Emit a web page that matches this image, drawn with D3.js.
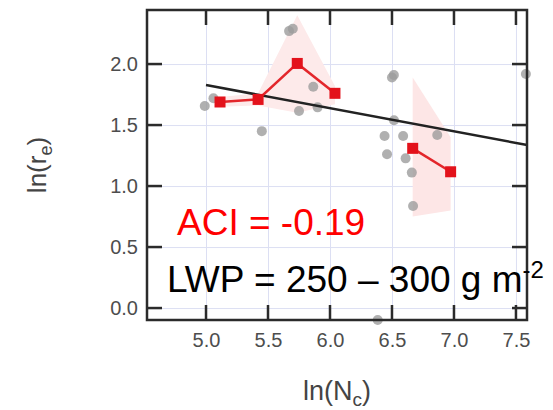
<!DOCTYPE html>
<html lang="en">
<head>
<meta charset="UTF-8">
<title>ln(re) vs ln(Nc)</title>
<style>
    body { margin: 0; background: #fff; }
    svg { display: block; font-family: "Liberation Sans", Arial, sans-serif; }
    .tick text { fill: #4d4d4d; font-size: 20px; }
</style>
</head>
<body>
<svg id="chart" width="553" height="410"></svg>
<script src="https://cdnjs.cloudflare.com/ajax/libs/d3/7.9.0/d3.min.js"></script>
<script>
    // gray scatter points (ln Nc, ln re)
    const pointX = [4.99, 5.06, 5.45, 5.67, 5.70, 5.75, 5.865, 5.90, 6.50, 6.515, 6.516, 6.44, 6.46, 6.59, 6.61, 6.66, 6.865, 7.58, 6.67, 6.385];
    const pointY = [1.656, 1.72, 1.45, 2.27, 2.29, 1.615, 1.814, 1.645, 1.89, 1.91, 1.54, 1.41, 1.26, 1.41, 1.227, 1.11, 1.418, 1.918, 0.836, -0.098];

    // binned means (red squares), two groups
    const meanX1 = [5.113, 5.42, 5.736, 6.04];
    const meanY1 = [1.689, 1.71, 2.005, 1.76];
    const bandHi1 = [1.73, 1.76, 2.40, 1.82];
    const bandLo1 = [1.65, 1.66, 1.60, 1.67];

    const meanX2 = [6.667, 6.973];
    const meanY2 = [1.309, 1.117];
    const bandHi2 = [1.89, 1.40];
    const bandLo2 = [0.75, 0.80];

    // regression line (slope = ACI)
    const fitX = [5.0, 7.59];
    const fitY = [1.828, 1.336];

    const xTicks = [5.0, 5.5, 6.0, 6.5, 7.0, 7.5];
    const yTicks = [0.0, 0.5, 1.0, 1.5, 2.0];

    const padL = 147, padR = 527, padT = 10, padB = 320;
    const svg = d3.select("#chart");

    const x = d3.scaleLinear().domain([4.524, 7.589]).range([padL, padR]);
    const y = d3.scaleLinear().domain([-0.098, 2.443]).range([padB, padT]);

    // grid
    svg.append("g")
        .attr("transform", "translate(0," + padB + ")")
        .call(d3.axisBottom(x).tickValues(xTicks).tickSize(-(padB - padT)).tickFormat(""))
        .call(g => g.select(".domain").remove())
        .selectAll("line").attr("stroke", "#dcdff3").attr("stroke-width", 1);
    svg.append("g")
        .attr("transform", "translate(" + padL + ",0)")
        .call(d3.axisLeft(y).tickValues(yTicks).tickSize(-(padR - padL)).tickFormat(""))
        .call(g => g.select(".domain").remove())
        .selectAll("line").attr("stroke", "#dcdff3").attr("stroke-width", 1);

    // shaded bands
    const area = d3.area()
        .x(d => x(d[0]))
        .y0(d => y(d[1]))
        .y1(d => y(d[2]));
    svg.append("path")
        .datum(meanX1.map((v, i) => [v, bandLo1[i], bandHi1[i]]))
        .attr("d", area)
        .attr("fill", "#fdeaea");
    svg.append("path")
        .datum(meanX2.map((v, i) => [v, bandLo2[i], bandHi2[i]]))
        .attr("d", area)
        .attr("fill", "#fde6e6");

    // scatter
    svg.selectAll(".pt")
        .data(pointX.map((v, i) => [v, pointY[i]]))
        .enter()
        .append("circle")
        .attr("class", "pt")
        .attr("cx", d => x(d[0]))
        .attr("cy", d => y(d[1]))
        .attr("r", 5)
        .attr("fill", "#9c9c9c")
        .attr("opacity", 0.8);

    // fit line
    const line = d3.line().x(d => x(d[0])).y(d => y(d[1]));
    svg.append("path")
        .datum(fitX.map((v, i) => [v, fitY[i]]))
        .attr("d", line)
        .attr("fill", "none")
        .attr("stroke", "#222")
        .attr("stroke-width", 2.5);

    // red mean lines + squares
    [[meanX1, meanY1], [meanX2, meanY2]].forEach(([mx, my]) => {
        const pts = mx.map((v, i) => [v, my[i]]);
        svg.append("path")
            .datum(pts)
            .attr("d", line)
            .attr("fill", "none")
            .attr("stroke", "#e3262b")
            .attr("stroke-width", 2.5);
        svg.selectAll(null)
            .data(pts)
            .enter()
            .append("rect")
            .attr("x", d => x(d[0]) - 5.5)
            .attr("y", d => y(d[1]) - 5.5)
            .attr("width", 11)
            .attr("height", 11)
            .attr("fill", "#e3121b");
    });

    // tick labels
    svg.append("g")
        .attr("class", "axis")
        .attr("transform", "translate(0," + padB + ")")
        .call(d3.axisBottom(x).tickValues(xTicks).tickSize(0).tickPadding(13).tickFormat(d3.format(".1f")));
    svg.append("g")
        .attr("class", "axis")
        .attr("transform", "translate(" + padL + ",0)")
        .call(d3.axisLeft(y).tickValues(yTicks).tickSize(0).tickPadding(9).tickFormat(d3.format(".1f")));
    svg.selectAll(".axis").attr("font-family", null).attr("font-size", null);
    svg.selectAll(".axis .domain").remove();

    // inward tick marks on all four sides, drawn as thin rects
    const tickLen = 15, tickW = 2.5;
    const tickG = svg.append("g").attr("fill", "#2b2b2b");
    tickG.selectAll(".xtb").data(xTicks).enter().append("rect")
        .attr("class", "xtb")
        .attr("x", d => x(d) - tickW / 2).attr("y", padB - tickLen)
        .attr("width", tickW).attr("height", tickLen);
    tickG.selectAll(".xtt").data(xTicks).enter().append("rect")
        .attr("class", "xtt")
        .attr("x", d => x(d) - tickW / 2).attr("y", padT)
        .attr("width", tickW).attr("height", tickLen);
    tickG.selectAll(".ytl").data(yTicks).enter().append("rect")
        .attr("class", "ytl")
        .attr("x", padL).attr("y", d => y(d) - tickW / 2)
        .attr("width", tickLen).attr("height", tickW);
    tickG.selectAll(".ytr").data(yTicks).enter().append("rect")
        .attr("class", "ytr")
        .attr("x", padR - tickLen).attr("y", d => y(d) - tickW / 2)
        .attr("width", tickLen).attr("height", tickW);

    // frame
    svg.append("rect")
        .attr("x", padL).attr("y", padT)
        .attr("width", padR - padL).attr("height", padB - padT)
        .attr("fill", "none")
        .attr("stroke", "#2b2b2b")
        .attr("stroke-width", 2.5);

    // axis titles
    const xt = svg.append("text")
        .attr("x", 337).attr("y", 400)
        .attr("text-anchor", "middle")
        .attr("font-size", 27)
        .attr("fill", "#444");
    xt.append("tspan").text("ln(N");
    xt.append("tspan").attr("dy", 6).attr("font-size", 19).text("c");
    xt.append("tspan").attr("dy", -6).text(")");

    const yt = svg.append("text")
        .attr("transform", "translate(46,165) rotate(-90)")
        .attr("text-anchor", "middle")
        .attr("font-size", 26)
        .attr("fill", "#444");
    yt.append("tspan").text("ln(r");
    yt.append("tspan").attr("dy", 6).attr("font-size", 18).text("e");
    yt.append("tspan").attr("dy", -6).text(")");

    // annotations
    svg.append("text")
        .attr("x", 177).attr("y", 235)
        .attr("font-size", 37)
        .attr("fill", "#ff0000")
        .text("ACI = -0.19");
    const lwp = svg.append("text")
        .attr("x", 167).attr("y", 292)
        .attr("font-size", 37)
        .attr("fill", "#000");
    lwp.append("tspan").text("LWP = 250 \u2013 300 g m");
    lwp.append("tspan").attr("dy", -14).attr("font-size", 24).text("-2");
</script>
</body>
</html>
